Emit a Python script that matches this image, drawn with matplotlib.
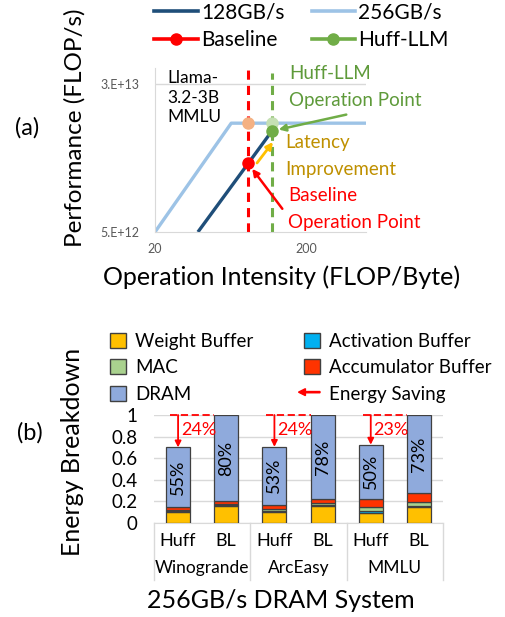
import numpy as np
import matplotlib
matplotlib.use("Agg")
import matplotlib.pyplot as plt
from matplotlib.lines import Line2D
from matplotlib.patches import Patch, FancyArrow
from matplotlib.legend_handler import HandlerPatch

plt.rcParams['font.family'] = ['Lato', 'DejaVu Sans']

# ---- (a) roofline data ----
intensity_256 = [20, 64, 500]
perf_256 = [5.0e12, 1.87e13, 1.87e13]
intensity_128 = [38.5, 119]
perf_128 = [5.0e12, 1.70e13]
baseline_intensity = 82.6
baseline_perf = 1.15e13
baseline_perf_256 = 1.87e13
huff_intensity = 119
huff_perf = 1.70e13
huff_perf_256 = 1.87e13

# ---- (b) energy breakdown data ----
bar_labels = ["Huff", "BL", "Huff", "BL", "Huff", "BL"]
group_labels = ["Winogrande", "ArcEasy", "MMLU"]
weight_buf = [0.105, 0.155, 0.105, 0.155, 0.095, 0.145]
act_buf = [0.008, 0.010, 0.010, 0.010, 0.015, 0.015]
mac = [0.012, 0.015, 0.015, 0.020, 0.040, 0.035]
acc_buf = [0.020, 0.020, 0.040, 0.035, 0.075, 0.080]
dram = [0.555, 0.800, 0.535, 0.780, 0.500, 0.725]
dram_pct = ["55%", "80%", "53%", "78%", "50%", "73%"]
saving_pct = ["24%", "24%", "23%"]

W, H = 505, 617
fig = plt.figure(figsize=(W / 100, H / 100), dpi=100)


def px(x, y):
    # pixel position (from top-left) -> figure fraction
    return (x / W, 1 - y / H)


# ================= panel (a) =================
ax = fig.add_axes([155 / W, 1 - 232 / H, (366 - 155) / W, (232 - 68) / H])
ax.set_xscale("log")
ax.set_yscale("log")
ax.set_xlim(20, 500)
ax.set_ylim(5e12, 3.65e13)

ax.axhline(3e13, color="#D9D9D9", lw=1, zorder=0)
for s in ["top", "right"]:
    ax.spines[s].set_visible(False)
ax.spines["left"].set_color("#D9D9D9")
ax.spines["bottom"].set_color("#D9D9D9")

ax.plot(intensity_256, perf_256, color="#9DC3E6", lw=2.4, solid_capstyle="butt")
ax.plot(intensity_128, perf_128, color="#1F4E79", lw=2.4, solid_capstyle="butt")

ax.axvline(baseline_intensity, color="#FF0000", lw=2.2, ls=(0, (3, 2)))
ax.axvline(huff_intensity, color="#70AD47", lw=2.2, ls=(0, (3, 2)), ymax=0.97)

ax.plot([baseline_intensity], [baseline_perf_256], "o", color="#F4B183", ms=8, zorder=5)
ax.plot([huff_intensity], [huff_perf_256], "o", color="#C5E0B4", ms=8, zorder=5)
ax.plot([huff_intensity], [huff_perf], "o", color="#70AD47", ms=8, zorder=5)
ax.plot([baseline_intensity], [baseline_perf], "o", color="#FF0000", ms=8, zorder=5)

ax.set_yticks([5e12, 3e13])
ax.set_yticklabels(["5.E+12", "3.E+13"])
ax.set_xticks([20, 200])
ax.set_xticklabels(["20", "200"])
ax.minorticks_off()
ax.tick_params(axis="both", length=0, labelsize=9, colors="#595959")
ax.tick_params(axis="y", pad=11)
ax.tick_params(axis="x", pad=8)

ax.text(0.06, 0.99, "Llama-\n3.2-3B\nMMLU", transform=ax.transAxes, fontsize=12.5,
        va="top", ha="left", linespacing=1.3)

# annotations
fig.text(*px(289, 87), "Huff-LLM\nOperation Point", color="#5E9A3A", fontsize=13.5,
         va="center", ha="left", linespacing=1.7)
fig.text(*px(285, 156), "Latency\nImprovement", color="#BF9000", fontsize=13.5,
         va="center", ha="left", linespacing=1.7)
fig.text(*px(288, 209), "Baseline\nOperation Point", color="#FF0000", fontsize=13.5,
         va="center", ha="left", linespacing=1.7)

ax.annotate("", xy=(huff_intensity, huff_perf), xytext=px(349, 114), textcoords="figure fraction",
            arrowprops=dict(arrowstyle="-|>", color="#70AD47", lw=1.8, shrinkB=5, mutation_scale=10))
ax.annotate("", xy=px(273, 142), xycoords="figure fraction", xytext=px(257, 163),
            textcoords="figure fraction",
            arrowprops=dict(arrowstyle="-|>", color="#FFC000", lw=2, shrinkA=0, shrinkB=0,
                            mutation_scale=10))
ax.annotate("", xy=(baseline_intensity, baseline_perf), xytext=px(284, 211), textcoords="figure fraction",
            arrowprops=dict(arrowstyle="-|>", color="#FF0000", lw=1.8, shrinkB=5, mutation_scale=10))

handles_a = [
    Line2D([], [], color="#1F4E79", lw=2.6),
    Line2D([], [], color="#FF0000", lw=2.6, marker="o", ms=8),
    Line2D([], [], color="#9DC3E6", lw=2.6),
    Line2D([], [], color="#70AD47", lw=2.6, marker="o", ms=8),
]
fig.legend(handles_a, ["128GB/s", "Baseline", "256GB/s", "Huff-LLM"], ncol=2,
           loc="upper left", bbox_to_anchor=px(152, 0), frameon=False, fontsize=15,
           handlelength=2.1, handletextpad=0.15, columnspacing=1.3, labelspacing=0.4,
           borderaxespad=0, borderpad=0.1)

fig.text(*px(75, 128), "Performance (FLOP/s)", rotation=90, fontsize=17.5, ha="center", va="center")
fig.text(*px(282, 277), "Operation Intensity (FLOP/Byte)", fontsize=18, ha="center", va="center")
fig.text(*px(27, 128), "(a)", fontsize=17, ha="center", va="center")

# ================= panel (b) =================
bx = fig.add_axes([154 / W, 1 - 523 / H, (443 - 154) / W, (523 - 415) / H])
x = np.arange(len(bar_labels))
layers = [
    (weight_buf, "#FFC000"),
    (act_buf, "#00B0F0"),
    (mac, "#A9D18E"),
    (acc_buf, "#FF3300"),
    (dram, "#8FAADC"),
]
bottom = np.zeros(len(x))
for vals, col in layers:
    bx.bar(x, vals, 0.5, bottom=bottom, color=col, edgecolor="#404040", linewidth=0.9, zorder=3)
    bottom = bottom + np.array(vals)

dram_base = bottom - np.array(dram)
for i in range(len(x)):
    bx.text(x[i], dram_base[i] + dram[i] / 2, dram_pct[i], rotation=90, ha="center",
            va="center", fontsize=13, zorder=4)

totals = bottom
for g in range(3):
    h = 2 * g
    bx.plot([x[h] - 0.17, x[h + 1] - 0.25], [1, 1], color="#FF0000", lw=1.3, ls=(0, (4, 2)),
            zorder=4, clip_on=False)
    bx.annotate("", xy=(x[h], totals[h]), xytext=(x[h], 1.0),
                arrowprops=dict(arrowstyle="-|>", color="#FF0000", lw=1.3, shrinkA=0, shrinkB=0,
                                mutation_scale=9), zorder=4)
    bx.text(x[h] + 0.06, 0.865, saving_pct[g], color="#FF0000", fontsize=13, ha="left",
            va="center", zorder=4)

bx.set_xlim(-0.5, 5.5)
bx.set_ylim(0, 1)
bx.set_yticks(np.arange(0, 1.01, 0.2))
bx.set_yticklabels(["0", "0.2", "0.4", "0.6", "0.8", "1"])
bx.yaxis.grid(True, color="#D9D9D9", lw=1, zorder=0)
bx.set_axisbelow(True)
for s in ["top", "right", "left"]:
    bx.spines[s].set_visible(False)
bx.spines["bottom"].set_color("#D9D9D9")
bx.tick_params(axis="y", length=0, labelsize=13.5, pad=12)
bx.set_xticks(x)
bx.set_xticklabels(bar_labels)
bx.tick_params(axis="x", length=0, labelsize=13, pad=7)

tr = bx.get_xaxis_transform()
for b in [-0.5, 1.5, 3.5, 5.5]:
    bx.plot([b, b], [0, -0.53], color="#D9D9D9", lw=1, transform=tr, clip_on=False)
for g, name in enumerate(group_labels):
    bx.text(2 * g + 0.5, -0.42, name, transform=tr, ha="center", va="center", fontsize=12.5)


def make_arrow(legend, orig_handle, xdescent, ydescent, width, height, fontsize):
    w = width * 1.35
    return FancyArrow(width, height / 2, -w, 0, width=0.9, head_width=5, head_length=5,
                      length_includes_head=True, color="#FF0000")


handles_b = [
    Patch(facecolor="#FFC000", edgecolor="#404040"),
    Patch(facecolor="#A9D18E", edgecolor="#404040"),
    Patch(facecolor="#8FAADC", edgecolor="#404040"),
    Patch(facecolor="#00B0F0", edgecolor="#404040"),
    Patch(facecolor="#FF3300", edgecolor="#404040"),
    FancyArrow(0, 0, 1, 0, color="#FF0000"),
]
fig.legend(handles_b, ["Weight Buffer", "MAC", "DRAM", "Activation Buffer",
                       "Accumulator Buffer", "Energy Saving"], ncol=2,
           loc="upper left", bbox_to_anchor=px(108, 331), frameon=False, fontsize=13.5,
           handlelength=0.85, handleheight=0.85, handletextpad=0.5, columnspacing=2.7,
           labelspacing=0.5, borderaxespad=0, borderpad=0.1,
           handler_map={FancyArrow: HandlerPatch(patch_func=make_arrow)})

fig.text(*px(73, 452), "Energy Breakdown", rotation=90, fontsize=18, ha="center", va="center")
fig.text(*px(281, 600), "256GB/s DRAM System", fontsize=18, ha="center", va="center")
fig.text(*px(30, 433), "(b)", fontsize=17, ha="center", va="center")

fig.savefig("out.png", dpi=100)
